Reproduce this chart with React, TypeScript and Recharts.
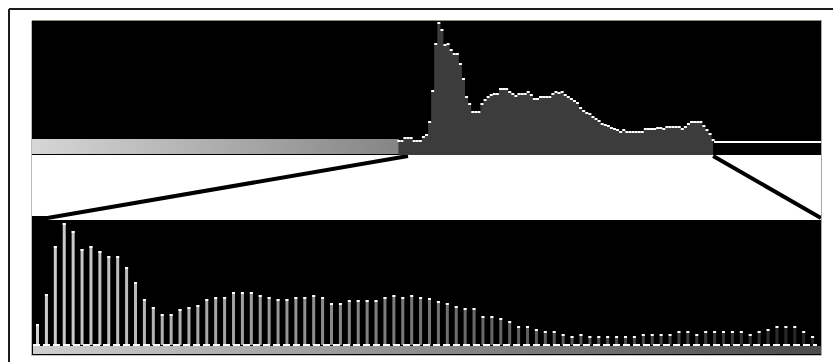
import React from 'react';
import {
  ComposedChart,
  Area,
  LineChart,
  Line,
  BarChart,
  Bar,
  XAxis,
  YAxis,
  ReferenceArea,
  ReferenceLine,
} from 'recharts';

// input levels run 0..256 across the panel width
const LEVEL_MAX = 256;

// top histogram: first level that has a bin, then one count per level
const histStartLevel = 119;
const histCounts = [
  14, 14, 17, 17, 17, 14, 14, 14, 18, 20, 33, 64, 111, 132, 125, 110, 111, 105, 101, 101,
  91, 76, 58, 51, 43, 43, 43, 51, 55, 58, 60, 61, 61, 66, 66, 66, 63, 61, 59, 61,
  61, 61, 63, 60, 56, 56, 58, 58, 58, 58, 61, 63, 62, 63, 60, 58, 56, 54, 52, 47,
  44, 42, 41, 38, 36, 34, 31, 30, 29, 27, 26, 25, 23, 25, 23, 23, 23, 23, 23, 23,
  26, 26, 26, 26, 27, 27, 26, 28, 28, 28, 28, 28, 26, 28, 31, 33, 33, 33, 33, 29,
  25, 21, 15,
];
// flat clipped line past the white point
const tailLevels = [221.3, 256];
const tailCount = 13;

// transfer curve (input level -> output, 0..100)
const curveLevels = [0, 5, 122, 123, 221, 256];
const curveOutput: (number | null)[] = [0, 0, 100, null, 100, 0];

// lower panel stems, left to right
const stemValues = [
  21, 51, 99, 122, 114, 96, 99, 94, 89, 89, 78, 63, 46, 38, 31, 31, 36, 38, 40, 46,
  48, 48, 53, 53, 53, 50, 48, 46, 46, 48, 48, 50, 48, 42, 42, 45, 45, 45, 45, 48,
  50, 48, 50, 48, 47, 44, 42, 39, 37, 37, 29, 29, 27, 24, 19, 19, 16, 14, 14, 11,
  9, 11, 9, 9, 9, 9, 9, 9, 11, 11, 11, 11, 14, 14, 11, 14, 14, 14, 14, 14,
  11, 14, 16, 19, 19, 19, 14, 9,
];

const histData = histCounts.map((c, i) => ({ level: histStartLevel + i, count: c }));
const curveData = curveLevels.map((l, i) => ({ level: l, out: curveOutput[i] }));
const stemData = stemValues.map((v, i) => ({ idx: i, v }));

const HistDot = (props: any) => {
  const { cx, cy } = props;
  if (cx == null || cy == null) return null;
  return <rect x={cx - 1.5} y={cy - 1} width={3} height={2} fill="#ffffff" />;
};

const StemBar = (props: any) => {
  const { x, y, width, height } = props;
  if (!height || height <= 0) return null;
  return (
    <g>
      <rect x={x} y={y} width={width} height={height} fill="url(#stemFade)" />
      <rect x={x} y={y} width={width} height={2} fill="#ffffff" />
    </g>
  );
};

const PANEL_W = 789;

export default function App() {
  return (
    <div
      style={{
        position: 'absolute',
        left: 0,
        top: 0,
        width: 833,
        height: 362,
        background: '#ffffff',
        overflow: 'hidden',
        fontFamily: 'DejaVu Sans, sans-serif',
      }}
    >
      {/* outer frame */}
      <div style={{ position: 'absolute', left: 9, top: 8, width: 824, height: 2, background: '#1c1c1c' }} />
      <div style={{ position: 'absolute', left: 8, top: 9, width: 2, height: 353, background: '#1c1c1c' }} />

      {/* upper histogram panel */}
      <div style={{ position: 'absolute', left: 32, top: 21, background: '#000000' }}>
        <ComposedChart
          width={PANEL_W}
          height={134}
          data={histData}
          margin={{ top: 0, right: 0, bottom: 0, left: 0 }}
        >
          <defs>
            <linearGradient id="stripFade" x1="0" y1="0" x2="1" y2="0">
              <stop offset="0%" stopColor="#d6d6d6" />
              <stop offset="100%" stopColor="#858585" />
            </linearGradient>
          </defs>
          <XAxis dataKey="level" type="number" domain={[0, LEVEL_MAX]} hide />
          <YAxis type="number" domain={[0, 134]} hide />
          <ReferenceArea x1={0} x2={histStartLevel} y1={1} y2={16} fill="url(#stripFade)" fillOpacity={1} stroke="none" />
          <Area
            dataKey="count"
            type="step"
            stroke="none"
            fill="#3c3c3c"
            fillOpacity={1}
            dot={<HistDot />}
            activeDot={false}
            isAnimationActive={false}
          />
          <ReferenceLine
            segment={[
              { x: tailLevels[0], y: tailCount },
              { x: tailLevels[1], y: tailCount },
            ]}
            stroke="#ffffff"
            strokeWidth={2}
            ifOverflow="visible"
          />
        </ComposedChart>
      </div>

      {/* transfer curve panel */}
      <div style={{ position: 'absolute', left: 32, top: 155, background: '#ffffff' }}>
        <LineChart
          width={PANEL_W}
          height={65}
          data={curveData}
          margin={{ top: 1, right: 0, bottom: 2, left: 0 }}
        >
          <XAxis dataKey="level" type="number" domain={[0, LEVEL_MAX]} hide />
          <YAxis type="number" domain={[0, 100]} hide />
          <Line
            dataKey="out"
            type="linear"
            stroke="#000000"
            strokeWidth={4}
            dot={false}
            activeDot={false}
            isAnimationActive={false}
          />
        </LineChart>
      </div>

      {/* lower stem panel */}
      <div style={{ position: 'absolute', left: 32, top: 220, background: '#000000' }}>
        <BarChart
          width={PANEL_W}
          height={135}
          data={stemData}
          margin={{ top: 0, right: 4, bottom: 10, left: 1 }}
        >
          <defs>
            <linearGradient id="stemFade" x1="0" y1="0" x2={PANEL_W} y2="0" gradientUnits="userSpaceOnUse">
              <stop offset="0%" stopColor="#d2d2d2" />
              <stop offset="45%" stopColor="#7c7c7c" />
              <stop offset="100%" stopColor="#222222" />
            </linearGradient>
          </defs>
          <XAxis dataKey="idx" type="category" hide />
          <YAxis type="number" domain={[0, 125]} hide />
          <Bar dataKey="v" barSize={3} shape={<StemBar />} isAnimationActive={false} />
          <ReferenceLine y={0} stroke="#ffffff" strokeWidth={2} strokeDasharray="7 3" ifOverflow="visible" />
        </BarChart>
      </div>
      <div
        style={{
          position: 'absolute',
          left: 33,
          top: 346,
          width: 788,
          height: 8,
          background: 'linear-gradient(to right, #cfcfcf, #8c8c8c 50%, #4a4a4a)',
        }}
      />

      {/* panel edges */}
      <div style={{ position: 'absolute', left: 31, top: 21, width: 1, height: 335, background: '#b8b8b8' }} />
      <div style={{ position: 'absolute', left: 32, top: 20, width: 790, height: 1, background: '#8c8c78' }} />
      <div style={{ position: 'absolute', left: 821, top: 20, width: 1, height: 336, background: '#a8a8a8' }} />
      <div style={{ position: 'absolute', left: 31, top: 355, width: 791, height: 1, background: '#c4c4c4' }} />
    </div>
  );
}
